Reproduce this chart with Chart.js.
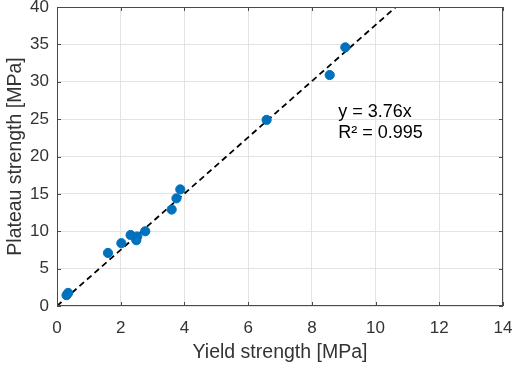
<!DOCTYPE html>
<html>
<head>
<meta charset="utf-8">
<script src="https://cdn.jsdelivr.net/npm/chart.js@4"></script>
<style>
  body { margin: 0; background: #fff; }
</style>
</head>
<body>
<canvas id="myChart" width="515" height="366"></canvas>
<script>
var yieldStrength   = [0.30, 0.35, 1.60, 2.02, 2.31, 2.52, 2.49, 2.77, 3.60, 3.75, 3.87, 6.58, 8.56, 9.05];
var plateauStrength = [1.45, 1.75, 7.10, 8.40, 9.50, 9.30, 8.80, 10.0, 12.9, 14.4, 15.6, 24.9, 30.9, 34.6];

var slope = 3.76;
var fitX = [0, 40 / slope];
var fitLabels = ['y = 3.76x', 'R\u00b2 = 0.995'];

var xTicks = [0, 2, 4, 6, 8, 10, 12, 14];
var yTicks = [0, 5, 10, 15, 20, 25, 30, 35, 40];

var textColor = '#333333';
var fontFam = '"Liberation Sans", Arial, sans-serif';

// box around the plot + inward ticks, matlab style
var boxPlugin = {
    id: 'box',
    afterDraw: function (chart) {
        var ctx = chart.ctx, a = chart.chartArea;
        var xs = chart.scales.x, ys = chart.scales.y;
        ctx.save();
        ctx.strokeStyle = '#4a4a4a';
        ctx.lineWidth = 1;
        ctx.strokeRect(a.left + 0.5, a.top + 0.5, a.right - a.left - 1, a.bottom - a.top - 1);
        ctx.beginPath();
        xTicks.forEach(function (v) {
            var px = Math.round(xs.getPixelForValue(v)) + 0.5;
            ctx.moveTo(px, a.bottom); ctx.lineTo(px, a.bottom - 4);
            ctx.moveTo(px, a.top); ctx.lineTo(px, a.top + 4);
        });
        yTicks.forEach(function (v) {
            var py = Math.round(ys.getPixelForValue(v)) + 0.5;
            ctx.moveTo(a.left, py); ctx.lineTo(a.left + 4, py);
            ctx.moveTo(a.right, py); ctx.lineTo(a.right - 4, py);
        });
        ctx.stroke();
        // fit annotation
        ctx.fillStyle = '#000000';
        ctx.font = '18px ' + fontFam;
        ctx.textBaseline = 'middle';
        ctx.fillText(fitLabels[0], xs.getPixelForValue(8.83), ys.getPixelForValue(25.9));
        ctx.fillText(fitLabels[1], xs.getPixelForValue(8.83), ys.getPixelForValue(23.2));
        ctx.restore();
    }
};

var ctx = document.getElementById('myChart').getContext('2d');
var myChart = new Chart(ctx, {
    type: 'scatter',
    data: {
        datasets: [{
            label: 'fit',
            type: 'line',
            data: fitX.map(function (x) { return { x: x, y: slope * x }; }),
            borderColor: '#000000',
            borderWidth: 1.8,
            borderDash: [6, 4],
            pointRadius: 0,
            fill: false,
            order: 2
        }, {
            label: 'data',
            data: yieldStrength.map(function (x, i) { return { x: x, y: plateauStrength[i] }; }),
            backgroundColor: '#0072BD',
            borderColor: '#0072BD',
            pointRadius: 4.6,
            order: 1
        }]
    },
    options: {
        responsive: false,
        animation: false,
        layout: { padding: { top: 7, right: 12, left: 0, bottom: 0 } },
        plugins: { legend: { display: false }, tooltip: { enabled: false } },
        scales: {
            x: {
                type: 'linear', min: 0, max: 14,
                afterBuildTicks: function (s) { s.ticks = xTicks.map(function (v) { return { value: v }; }); },
                afterFit: function (s) { s.height = 60; s.paddingLeft = 0; s.paddingRight = 0; },
                grid: { color: '#e3e3e3', drawTicks: false },
                border: { display: false },
                ticks: { color: textColor, padding: 12, font: { size: 17, family: fontFam } },
                title: { display: true, text: 'Yield strength [MPa]', color: textColor, padding: { top: 2, bottom: 2 }, font: { size: 19.5, family: fontFam } }
            },
            y: {
                type: 'linear', min: 0, max: 40,
                afterBuildTicks: function (s) { s.ticks = yTicks.map(function (v) { return { value: v }; }); },
                afterFit: function (s) { s.width = 57; s.paddingTop = 0; s.paddingBottom = 0; },
                grid: { color: '#e3e3e3', drawTicks: false },
                border: { display: false },
                ticks: { color: textColor, padding: 8, font: { size: 17, family: fontFam } },
                title: { display: true, text: 'Plateau strength [MPa]', color: textColor, padding: { top: 4, bottom: 0 }, font: { size: 19.5, family: fontFam } }
            }
        }
    },
    plugins: [boxPlugin]
});
</script>
</body>
</html>
